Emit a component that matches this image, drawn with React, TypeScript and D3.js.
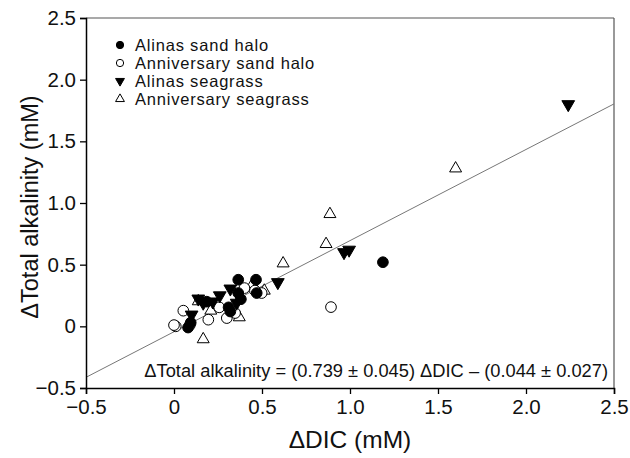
import * as d3 from "d3"
import { useEffect, useRef } from "react"

// ΔDIC (x) and ΔTotal alkalinity (y), mM
const alinasHaloX = [0.365, 0.466, 0.47, 0.365, 0.31, 0.32, 0.08, 0.095, 0.186, 0.38, 1.187]
const alinasHaloY = [0.378, 0.378, 0.27, 0.27, 0.154, 0.12, -0.01, 0.03, 0.2, 0.22, 0.52]

const annivHaloX = [0.053, 0.01, 0.0, 0.195, 0.30, 0.257, 0.347, 0.498, 0.46, 0.40, 0.892, 0.09]
const annivHaloY = [0.127, 0.0, 0.01, 0.054, 0.067, 0.154, 0.108, 0.27, 0.29, 0.31, 0.156, 0.01]

const alinasGrassX = [0.138, 0.26, 0.32, 0.22, 0.166, 0.356, 0.10, 0.59, 0.966, 0.995, 2.24]
const alinasGrassY = [0.224, 0.25, 0.305, 0.2, 0.19, 0.19, 0.094, 0.357, 0.60, 0.62, 1.80]

const annivGrassX = [0.138, 0.447, 0.513, 0.371, 0.209, 0.166, 0.62, 0.864, 0.886, 1.60]
const annivGrassY = [0.203, 0.343, 0.289, 0.073, 0.127, -0.105, 0.51, 0.667, 0.91, 1.28]

const ticks = [-0.5, 0, 0.5, 1.0, 1.5, 2.0, 2.5]
const slope = 0.739
const intercept = -0.044

const seriesNames = ["Alinas sand halo", "Anniversary sand halo", "Alinas seagrass", "Anniversary seagrass"]

const font = "Liberation Sans, Arial, sans-serif"

export default function App() {
  const ref = useRef<SVGSVGElement>(null)

  useEffect(() => {
    const svg = d3.select(ref.current)
    svg.selectAll("*").remove()

    const margin = { top: 18, right: 16, bottom: 70, left: 86 }
    const width = 630 - margin.left - margin.right
    const height = 458 - margin.top - margin.bottom

    const x = d3.scaleLinear().domain([-0.5, 2.5]).range([0, width])
    const y = d3.scaleLinear().domain([-0.5, 2.5]).range([height, 0])

    const g = svg.append("g").attr("transform", "translate(" + margin.left + "," + margin.top + ")")

    // frame (top and right)
    g.append("line").attr("x1", 0).attr("x2", width).attr("y1", 0).attr("y2", 0)
      .attr("stroke", "#555").attr("stroke-width", 1.2)
    g.append("line").attr("x1", width).attr("x2", width).attr("y1", 0).attr("y2", height)
      .attr("stroke", "#555").attr("stroke-width", 1.2)

    // regression line
    g.append("line")
      .attr("x1", x(-0.5)).attr("y1", y(slope * -0.5 + intercept))
      .attr("x2", x(2.5)).attr("y2", y(slope * 2.5 + intercept))
      .attr("stroke", "#777").attr("stroke-width", 1)

    const fmt = (d: d3.NumberValue) => (+d === 0 ? "0" : d3.format(".1f")(+d).replace("-", "\u2212"))
    const xAxis = g.append("g").attr("transform", "translate(0," + height + ")")
      .call(d3.axisBottom(x).tickValues(ticks).tickSize(6).tickPadding(3).tickFormat(fmt))
    const yAxis = g.append("g")
      .call(d3.axisLeft(y).tickValues(ticks).tickSize(6).tickPadding(4).tickFormat(fmt))

    for (const ax of [xAxis, yAxis]) {
      ax.select(".domain").attr("stroke", "#000").attr("stroke-width", 1.5)
      ax.selectAll(".tick line").attr("stroke", "#000").attr("stroke-width", 1.3)
      ax.selectAll("text").attr("font-family", font).attr("font-size", 20.5).attr("fill", "#111")
    }
    xAxis.selectAll("text").attr("dy", "0.85em")

    const circle = d3.symbol().type(d3.symbolCircle)
    const tri = d3.symbol().type(d3.symbolTriangle)

    const draw = (xs: number[], ys: number[], kind: string, fill: string, size: number) => {
      const pts = xs.map((v, i) => [v, ys[i]])
      g.append("g").selectAll("path").data(pts).enter().append("path")
        .attr("d", kind === "circle" ? circle.size(size)() : tri.size(size)())
        .attr("transform", d => "translate(" + x(d[0]) + "," + y(d[1]) + ")" + (kind === "down" ? " rotate(180)" : ""))
        .attr("fill", fill)
        .attr("stroke", "#000")
        .attr("stroke-width", 1)
    }

    draw(annivGrassX, annivGrassY, "up", "#fff", 62)
    draw(annivHaloX, annivHaloY, "circle", "#fff", 90)
    draw(alinasGrassX, alinasGrassY, "down", "#000", 70)
    draw(alinasHaloX, alinasHaloY, "circle", "#000", 90)

    // legend
    const kinds = ["circle", "circle", "down", "up"]
    const fills = ["#000", "#fff", "#000", "#fff"]
    const leg = g.append("g").attr("transform", "translate(34,27)")
    seriesNames.forEach((name, i) => {
      const row = leg.append("g").attr("transform", "translate(0," + i * 18 + ")")
      row.append("path")
        .attr("d", kinds[i] === "circle" ? circle.size(42)() : tri.size(34)())
        .attr("transform", kinds[i] === "down" ? "rotate(180)" : "")
        .attr("fill", fills[i]).attr("stroke", "#000").attr("stroke-width", 1)
      row.append("text").attr("x", 15).attr("dy", "0.35em")
        .attr("font-family", font).attr("font-size", 16.5).attr("letter-spacing", 0.8)
        .attr("fill", "#111").text(name)
    })

    // equation
    g.append("text")
      .attr("x", width - 6).attr("y", height - 11)
      .attr("text-anchor", "end")
      .attr("font-family", font).attr("font-size", 18.3)
      .attr("fill", "#111")
      .text("\u0394Total alkalinity = (0.739 \u00b1 0.045) \u0394DIC \u2013 (0.044 \u00b1 0.027)")

    // axis titles
    g.append("text")
      .attr("x", width / 2).attr("y", height + 60)
      .attr("text-anchor", "middle")
      .attr("font-family", font).attr("font-size", 24.5)
      .attr("fill", "#111").text("\u0394DIC (mM)")
    g.append("text")
      .attr("transform", "translate(-48," + (height / 2 + 4) + ") rotate(-90)")
      .attr("text-anchor", "middle")
      .attr("font-family", font).attr("font-size", 23.5)
      .attr("fill", "#111").text("\u0394Total alkalinity (mM)")
  }, [])

  return (
    <svg ref={ref} width={630} height={458} style={{ position: "absolute", left: 0, top: 0, background: "#fff" }} />
  )
}
